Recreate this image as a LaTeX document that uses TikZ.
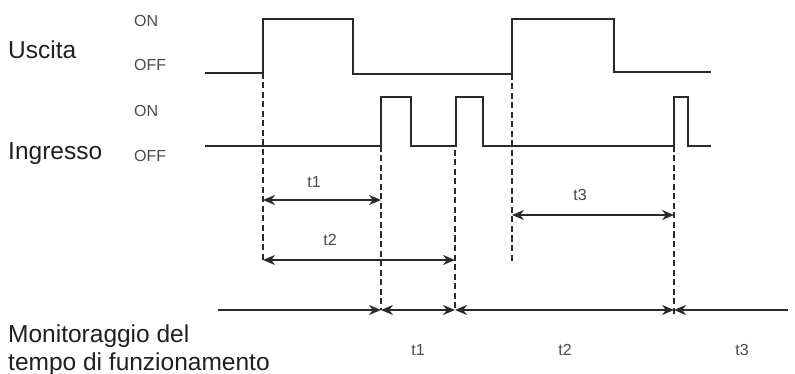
\documentclass[tikz,border=0pt]{standalone}
\usepackage{fontspec}
\setmainfont{Liberation Sans}
\usetikzlibrary{arrows.meta}
\definecolor{SignalGrey}{HTML}{2A2A2A}
\definecolor{LabelGrey}{HTML}{4A4A4A}

\begin{document}
\begin{tikzpicture}[x=1pt, y=-1pt,
    signal/.style={SignalGrey, line width=2.3pt, line join=miter},
    guide/.style={SignalGrey, line width=2pt, dash pattern=on 6pt off 3.5pt},
    span/.style={SignalGrey, line width=2.1pt, {Stealth[length=12pt,width=10pt]}-{Stealth[length=12pt,width=10pt]}},
    tospan/.style={SignalGrey, line width=2.1pt, -{Stealth[length=12pt,width=10pt]}},
    level/.style={LabelGrey, font=\fontsize{16}{19}\selectfont, inner sep=0pt, anchor=west},
    tname/.style={LabelGrey, font=\fontsize{16}{19}\selectfont, inner sep=0pt},
    side/.style={black!88, font=\fontsize{24.5}{28}\selectfont, inner sep=0pt, anchor=base west}]
  \useasboundingbox (0,0) rectangle (795,374);

  % Signal names
  \node[side] (uscita) at (8,59) {Uscita};
  \node[side] (ingresso) at (8,160) {Ingresso};
  \node[side] (mon1) at (8,342) {Monitoraggio del};
  \node[side] (mon2) at (8,370) {tempo di funzionamento};
  \node[level] (uon) at (134,21) {ON};
  \node[level] (uoff) at (134,65) {OFF};
  \node[level] (ion) at (134,111) {ON};
  \node[level] (ioff) at (134,156) {OFF};

  % Waveforms
  \draw[signal] (205,73) -- (263,73) -- (263,19) -- (353,19) -- (353,74)
    -- (512,74) -- (512,19) -- (614,19) -- (614,72) -- (711,72);
  \draw[signal] (205,146) -- (381,146) -- (381,97) -- (411,97) -- (411,146)
    -- (456,146) -- (456,97) -- (483,97) -- (483,146) -- (674,146)
    -- (674,97) -- (688,97) -- (688,146) -- (711,146);

  % Guide lines
  \coordinate (a0) at (263,73);  \coordinate (a1) at (263,262);
  \coordinate (b0) at (381,146); \coordinate (b1) at (381,310);
  \coordinate (c0) at (455,150); \coordinate (c1) at (455,310);
  \coordinate (d0) at (512,74);  \coordinate (d1) at (512,263);
  \coordinate (e0) at (674,146); \coordinate (e1) at (674,310);
  \draw[guide] (a0) -- (a1);
  \draw[guide] (b0) -- (b1);
  \draw[guide] (c0) -- (c1);
  \draw[guide] (d0) -- (d1);
  \draw[guide] (e0) -- ([yshift=-5pt]e1);

  % Timing spans
  \draw[span] (263,200) coordinate (t1l) -- (381,200) coordinate (t1r);
  \node[tname] (t1) at (314,182) {t1};
  \draw[span] (263,260) coordinate (t2l) -- (455,260) coordinate (t2r);
  \node[tname] (t2) at (330,240) {t2};
  \draw[span] (512,215) coordinate (t3l) -- (674,215) coordinate (t3r);
  \node[tname] (t3) at (580,195) {t3};

  % Monitoring axis
  \coordinate (m0) at (218,310); \coordinate (m5) at (788,310);
  \draw[tospan] (m0) -- (b1);
  \draw[span] (b1) -- (c1);
  \draw[span] (c1) -- (e1);
  \draw[tospan] (m5) -- (e1);
  \node[tname] (mt1) at (418,350) {t1};
  \node[tname] (mt2) at (565,350) {t2};
  \node[tname] (mt3) at (742,350) {t3};
\end{tikzpicture}
\end{document}
